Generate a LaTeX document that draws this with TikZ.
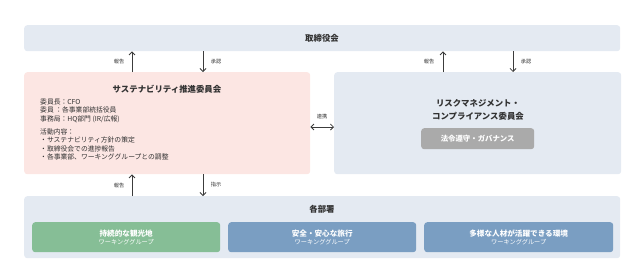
\documentclass[tikz,border=0pt]{standalone}
\usepackage{fontspec}
\setmainfont{Noto Sans CJK JP}
\usetikzlibrary{arrows.meta}
\definecolor{bluebg}{RGB}{228,234,242}
\definecolor{pinkbg}{RGB}{252,230,227}
\definecolor{wgreen}{RGB}{134,190,150}
\definecolor{wblue}{RGB}{122,158,194}
\definecolor{btngray}{RGB}{170,170,170}
\definecolor{txt}{RGB}{50,50,50}
\definecolor{arrc}{RGB}{60,60,60}
\tikzset{
  panel/.style={draw=none, rounded corners=3pt, inner sep=0pt, anchor=north west},
  ttl/.style={font=\fontsize{8.4}{13}\selectfont\bfseries, text=txt, align=center},
  body/.style={font=\fontsize{6.8}{8.4}\selectfont, text=txt, align=left, anchor=north west, inner sep=0pt},
  lbl/.style={font=\fontsize{5.2}{6}\selectfont, text=txt, inner sep=0pt},
  arr/.style={draw=arrc, line width=0.8pt, -{Straight Barb[length=3pt,width=6pt]}},
  darr/.style={draw=arrc, line width=0.8pt, {Straight Barb[length=3pt,width=6pt]}-{Straight Barb[length=3pt,width=6pt]}},
  wg/.style={rounded corners=3pt, minimum width=188pt, minimum height=30pt, inner sep=0pt, anchor=north west, text=white, align=center, font=\fontsize{7.6}{9}\selectfont},
}
\begin{document}
\begin{tikzpicture}[x=1pt,y=-1pt]
\useasboundingbox (0,0) rectangle (637,269);
% top board
\node[panel, fill=bluebg, minimum width=596pt, minimum height=26pt] (top) at (24,25) {};
\node[ttl] (toptxt) at (322,38) {取締役会};
% sustainability committee
\node[panel, fill=pinkbg, minimum width=286pt, minimum height=102pt] (sus) at (24,72) {};
\node[ttl] (sustxt) at (167,89) {サステナビリティ推進委員会};
\node[body] (susmem) at (40,98.5) {委員長：CFO\\委員 ：各事業部統括役員\\事務局：HQ部門 (IR/広報)};
\node[body] (susact) at (40,128.5) {活動内容：\\・サステナビリティ方針の策定\\・取締役会での進捗報告\\・各事業部、ワーキンググループとの調整};
% risk committee
\node[panel, fill=bluebg, minimum width=287pt, minimum height=102pt] (risk) at (334,72) {};
\node[ttl] (risktxt) at (478,109.5) {リスクマネジメント・\\コンプライアンス委員会};
\node[panel, fill=btngray, minimum width=113pt, minimum height=21pt] (law) at (421,128) {};
\node[ttl, text=white, font=\fontsize{7.4}{8}\selectfont\bfseries] (lawtxt) at (law.center) {法令遵守・ガバナンス};
% departments
\node[panel, fill=bluebg, minimum width=596pt, minimum height=62pt] (dept) at (24,196) {};
\node[ttl] (depttxt) at (322,209) {各部署};
\node[wg, fill=wgreen] (wg1) at (32,222) {\bfseries 持続的な観光地\\[-1.5pt]{\fontsize{6.2}{7}\selectfont ワーキンググループ}};
\node[wg, fill=wblue] (wg2) at (228,222) {\bfseries 安全・安心な旅行\\[-1.5pt]{\fontsize{6.2}{7}\selectfont ワーキンググループ}};
\node[wg, fill=wblue, minimum width=189pt] (wg3) at (424,222) {\bfseries 多様な人材が活躍できる環境\\[-1.5pt]{\fontsize{6.2}{7}\selectfont ワーキンググループ}};
% arrows top - sustainability
\draw[arr] (sus.north -| 132,0) -- (top.south -| 132,0);
\draw[arr] (top.south -| 203,0) -- (sus.north -| 203,0);
\node[lbl] (l1) at (119,62) {報告};
\node[lbl] (l2) at (216,62) {承認};
% arrows top - risk
\draw[arr] (risk.north -| 443,0) -- (top.south -| 443,0);
\draw[arr] (top.south -| 513,0) -- (risk.north -| 513,0);
\node[lbl] (l3) at (429,62) {報告};
\node[lbl] (l4) at (526,62) {承認};
% link
\draw[darr] (sus.east |- 0,127) -- (risk.west |- 0,127);
\node[lbl] (l5) at (322,117) {連携};
% arrows sustainability - departments
\draw[arr] (dept.north -| 132,0) -- (sus.south -| 132,0);
\draw[arr] (sus.south -| 203,0) -- (dept.north -| 203,0);
\node[lbl] (l6) at (119,186) {報告};
\node[lbl] (l7) at (216,185) {指示};
\end{tikzpicture}
\end{document}
